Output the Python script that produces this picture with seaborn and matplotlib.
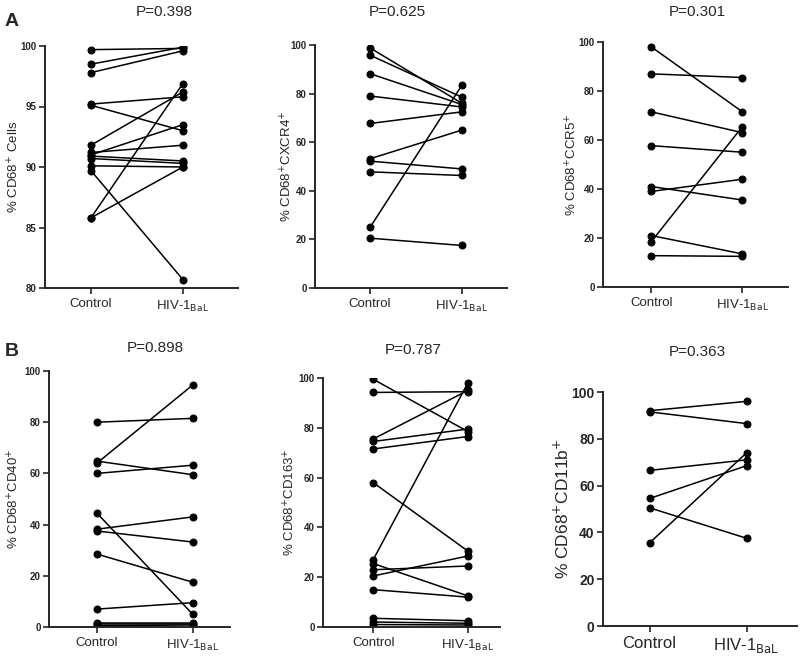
import pandas as pd
import matplotlib.pyplot as plt
import seaborn as sns

sns.set_style("ticks")
plt.rcParams["font.family"] = ["Liberation Sans", "DejaVu Sans"]

groups = ["Control", "HIV-1$_{\\mathrm{BaL}}$"]

# paired values (control, HIV-1 BaL) per donor
cd68_ctrl = [99.7, 98.5, 97.8, 95.2, 95.1, 91.8, 91.2, 91.0, 90.9, 90.7, 90.1, 89.7, 85.8, 85.8]
cd68_hiv = [99.8, 99.9, 99.6, 95.8, 93.0, 96.2, 91.8, 93.5, 90.5, 90.3, 90.0, 80.7, 96.9, 90.0]

cxcr4_ctrl = [98.8, 95.8, 88.2, 79.0, 67.7, 53.2, 52.2, 47.8, 25.0, 20.5]
cxcr4_hiv = [76.0, 78.5, 75.5, 74.5, 72.5, 65.0, 49.0, 46.3, 83.5, 17.5]

ccr5_ctrl = [98.0, 87.0, 71.5, 57.7, 41.0, 39.0, 21.0, 18.5, 12.8]
ccr5_hiv = [71.5, 85.5, 63.0, 55.0, 35.5, 44.0, 13.5, 65.5, 12.5]

cd40_ctrl = [80.0, 64.0, 64.8, 60.0, 44.5, 38.2, 37.5, 28.5, 7.0, 1.5, 1.0, 0.5]
cd40_hiv = [81.5, 94.5, 59.5, 63.2, 5.0, 43.0, 33.2, 17.5, 9.5, 1.5, 1.0, 0.8]

cd163_ctrl = [99.5, 94.2, 75.5, 74.5, 71.5, 58.0, 27.0, 25.5, 23.0, 20.5, 15.0, 3.5, 2.0, 1.0]
cd163_hiv = [78.5, 94.5, 95.0, 79.5, 76.5, 30.5, 98.0, 12.5, 24.5, 28.5, 12.0, 2.5, 1.5, 0.8]

cd11b_ctrl = [92.0, 91.5, 66.5, 54.5, 50.5, 35.5]
cd11b_hiv = [96.0, 86.5, 71.0, 68.5, 37.5, 74.0]

ylabels = ["% CD68$^{+}$ Cells", "% CD68$^{+}$CXCR4$^{+}$", "% CD68$^{+}$CCR5$^{+}$",
           "% CD68$^{+}$CD40$^{+}$", "% CD68$^{+}$CD163$^{+}$", "% CD68$^{+}$CD11b$^{+}$"]
pvalues = ["P=0.398", "P=0.625", "P=0.301", "P=0.898", "P=0.787", "P=0.363"]
ticks_pct = [0, 20, 40, 60, 80, 100]
ticks_cd68 = [80, 85, 90, 95, 100]

panels = [
    # ctrl, hiv, ylim, yticks, axes box [l, r, top, bottom] px, xlim, ylabel right edge px, title (x, y) px, big
    (cd68_ctrl, cd68_hiv, (80, 100), ticks_cd68, (45, 238, 46, 288), (-0.5, 1.6), 22, (164, 12), False),
    (cxcr4_ctrl, cxcr4_hiv, (0, 100), ticks_pct, (315, 507, 45, 288), (-0.6, 1.49), 295, (397, 12), False),
    (ccr5_ctrl, ccr5_hiv, (0, 100), ticks_pct, (603, 788, 42, 287), (-0.53, 1.5), 580, (697, 12), False),
    (cd40_ctrl, cd40_hiv, (0, 100), ticks_pct, (49, 230, 371, 627), (-0.5, 1.39), 22, (155, 348), False),
    (cd163_ctrl, cd163_hiv, (0, 100), ticks_pct, (323, 500, 378, 627), (-0.53, 1.34), 298, (413, 350), False),
    (cd11b_ctrl, cd11b_hiv, (0, 100), ticks_pct, (603, 797, 392, 626), (-0.48, 1.52), 572, (697, 352), True),
]

W, H = 800, 658
fig = plt.figure(figsize=(W / 100, H / 100), dpi=100)

for i, (ctrl, hiv, ylim, yticks, box, xlim, ylx, tpos, big) in enumerate(panels):
    l, r, t, b = box
    ax = fig.add_axes([l / W, 1 - b / H, (r - l) / W, (b - t) / H])

    # long format: one row per donor per condition
    df = pd.DataFrame({
        "donor": list(range(len(ctrl))) * 2,
        "pos": [0] * len(ctrl) + [1] * len(hiv),
        "value": ctrl + hiv,
    })
    sns.lineplot(data=df, x="pos", y="value", units="donor", estimator=None,
                 color="black", lw=1.1, marker="o", markersize=5,
                 markeredgecolor="black", ax=ax, legend=False)

    ax.set_xlim(*xlim)
    ax.set_ylim(*ylim)
    ax.set_yticks(yticks)
    ax.set_xticks([0, 1])
    ax.set_xticklabels(groups, fontsize=12 if big else 9.5)
    ax.tick_params(axis="y", labelsize=10 if big else 7, width=1.2, length=4, pad=2)
    ax.tick_params(axis="x", width=1.2, length=4)
    for lab in ax.get_yticklabels():
        lab.set_fontweight("bold")
    ax.set_xlabel("")
    ax.set_ylabel(ylabels[i], fontsize=12.5 if big else 9.5)
    ax.yaxis.set_label_coords((ylx - l) / (r - l), 0.5)
    for s in ["left", "bottom"]:
        ax.spines[s].set_linewidth(1.4)
    sns.despine(ax=ax)
    ax.set_facecolor("none")

    fig.text(tpos[0] / W, 1 - tpos[1] / H, pvalues[i], ha="center", va="center", fontsize=11)

fig.text(12 / W, 1 - 22 / H, "A", fontsize=14, fontweight="bold", ha="center", va="center")
fig.text(12 / W, 1 - 352 / H, "B", fontsize=14, fontweight="bold", ha="center", va="center")

fig.savefig("out.png", dpi=100, facecolor="white")
